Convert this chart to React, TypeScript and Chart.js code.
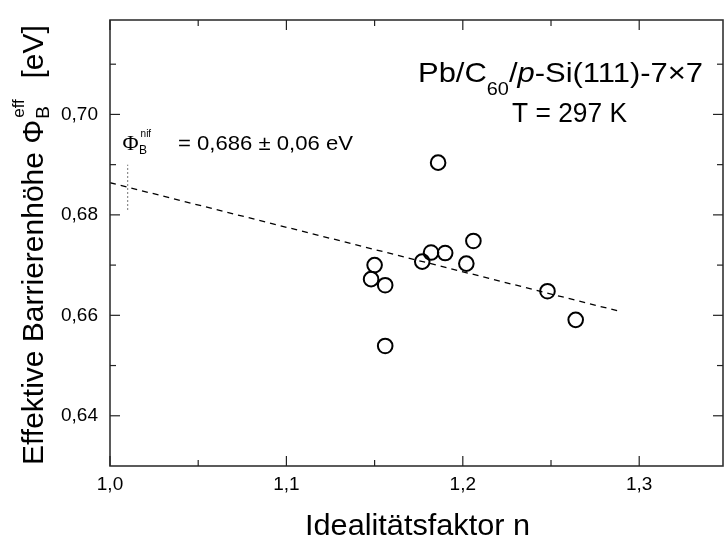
import React, { useEffect, useRef } from "react";
import { Chart, registerables } from "chart.js";

Chart.register(...registerables);

// ---- data ----
const idealityN = [1.186, 1.206, 1.182, 1.190, 1.177, 1.202, 1.150, 1.148, 1.156, 1.248, 1.264, 1.156];
const barrierEff = [0.6904, 0.6748, 0.6725, 0.6724, 0.6707, 0.6703, 0.6700, 0.6672, 0.6660, 0.6648, 0.6591, 0.6539];
const fitN = [1.0, 1.29];
const fitPhi = [0.6864, 0.6607];
const markerN = [1.01, 1.01];
const markerPhi = [0.681, 0.690];
const xMajorTicks = [1.0, 1.1, 1.2, 1.3];
const xMinorTicks = [1.05, 1.15, 1.25];
const yMajorTicks = [0.64, 0.66, 0.68, 0.70];
const yMinorTicks = [0.65, 0.67, 0.69, 0.71];
const xRange = [1.0, 1.3475];
const yRange = [0.63, 0.7188];

const SANS = "'Liberation Sans', Arial, sans-serif";
const SERIF = "'Liberation Serif', 'Times New Roman', serif";

const fmt = (v: number, d: number) => v.toFixed(d).replace(".", ",");

type Run = { t: string; font: string; dy: number };

function drawRuns(ctx: CanvasRenderingContext2D, runs: Run[], x: number, base: number, targetWidth?: number) {
  let total = 0;
  const widths = runs.map((r) => {
    ctx.font = r.font;
    const w = ctx.measureText(r.t).width;
    total += w;
    return w;
  });
  const sx = targetWidth ? targetWidth / total : 1;
  ctx.save();
  ctx.translate(x, base);
  ctx.scale(sx, 1);
  let cx = 0;
  runs.forEach((r, i) => {
    ctx.font = r.font;
    ctx.fillText(r.t, cx, r.dy);
    cx += widths[i];
  });
  ctx.restore();
}

const decorPlugin = {
  id: "decor",
  afterDraw(chart: any) {
    const ctx = chart.ctx as CanvasRenderingContext2D;
    const { left, right, top, bottom } = chart.chartArea;
    const xs = chart.scales.x;
    const ys = chart.scales.y;
    ctx.save();
    // frame
    ctx.strokeStyle = "#333";
    ctx.lineWidth = 1.6;
    ctx.strokeRect(left, top, right - left, bottom - top);
    // ticks (inward, all sides)
    ctx.lineWidth = 1.2;
    ctx.strokeStyle = "#222";
    const tick = (x1: number, y1: number, x2: number, y2: number) => {
      ctx.beginPath();
      ctx.moveTo(x1, y1);
      ctx.lineTo(x2, y2);
      ctx.stroke();
    };
    xMajorTicks.forEach((v) => {
      const p = xs.getPixelForValue(v);
      tick(p, bottom, p, bottom - 10);
      tick(p, top, p, top + 10);
    });
    xMinorTicks.forEach((v) => {
      const p = xs.getPixelForValue(v);
      tick(p, bottom, p, bottom - 6);
      tick(p, top, p, top + 6);
    });
    yMajorTicks.forEach((v) => {
      const p = ys.getPixelForValue(v);
      tick(left, p, left + 10, p);
      tick(right, p, right - 10, p);
    });
    yMinorTicks.forEach((v) => {
      const p = ys.getPixelForValue(v);
      tick(left, p, left + 6, p);
      tick(right, p, right - 6, p);
    });

    ctx.fillStyle = "#000";
    ctx.textBaseline = "alphabetic";
    ctx.textAlign = "left";

    // annotation: Φ_B^nif = 0,686 ± 0,06 eV
    {
      let x = 122.5;
      const base = 149.5;
      ctx.font = `22px ${SERIF}`;
      ctx.fillText("Φ", x, base);
      x += ctx.measureText("Φ").width + 0.5;
      ctx.font = `12px ${SANS}`;
      ctx.fillText("B", x, base + 4);
      ctx.font = `10px ${SANS}`;
      ctx.fillText("nif", x + 1.5, base - 12.5);
      drawRuns(ctx, [{ t: "= 0,686 ± 0,06 eV", font: `21px ${SANS}`, dy: 0 }], 178, base, 175);
    }

    // title: Pb/C60/p-Si(111)-7×7
    drawRuns(
      ctx,
      [
        { t: "Pb/C", font: `28px ${SANS}`, dy: 0 },
        { t: "60", font: `18px ${SANS}`, dy: 13 },
        { t: "/", font: `28px ${SANS}`, dy: 0 },
        { t: "p", font: `italic 28px ${SANS}`, dy: 0 },
        { t: "-Si(111)-7×7", font: `28px ${SANS}`, dy: 0 },
      ],
      418,
      81.5,
      285
    );
    drawRuns(ctx, [{ t: "T = 297 K", font: `27px ${SANS}`, dy: 0 }], 512, 121.7, 115);

    // x-axis title
    drawRuns(ctx, [{ t: "Idealitätsfaktor n", font: `30px ${SANS}`, dy: 0 }], 305, 535, 225);

    // y-axis title (rotated)
    ctx.save();
    ctx.translate(43, 465);
    ctx.rotate(-Math.PI / 2);
    ctx.textAlign = "left";
    let y0 = 0;
    ctx.font = `30px ${SANS}`;
    const main = "Effektive Barrierenhöhe Φ";
    ctx.fillText(main, y0, 0);
    y0 += ctx.measureText(main).width + 1;
    ctx.font = `19px ${SANS}`;
    ctx.fillText("B", y0, 6);
    const bw = ctx.measureText("B").width;
    ctx.font = `17px ${SANS}`;
    ctx.fillText("eff", y0 + 1, -19);
    const ew = ctx.measureText("eff").width;
    y0 += Math.max(bw, ew + 1) + 4;
    ctx.font = `30px ${SANS}`;
    ctx.fillText("  [eV]", y0, 0);
    ctx.restore();

    ctx.restore();
  },
};

const zeroPad = (s: any) => {
  s.paddingLeft = 0;
  s.paddingRight = 0;
  s.paddingTop = 0;
  s.paddingBottom = 0;
};

export default function App() {
  const ref = useRef<HTMLCanvasElement>(null);
  useEffect(() => {
    if (!ref.current) return;
    const chart = new Chart(ref.current, {
      type: "scatter",
      data: {
        datasets: [
          {
            label: "fit",
            data: fitN.map((x, i) => ({ x, y: fitPhi[i] })),
            showLine: true,
            borderColor: "#000",
            borderWidth: 1.3,
            borderDash: [6, 5],
            pointRadius: 0,
            fill: false,
          },
          {
            label: "marker",
            data: markerN.map((x, i) => ({ x, y: markerPhi[i] })),
            showLine: true,
            borderColor: "#666",
            borderWidth: 1.2,
            borderDash: [1.5, 2.5],
            pointRadius: 0,
            fill: false,
          },
          {
            label: "data",
            data: idealityN.map((x, i) => ({ x, y: barrierEff[i] })),
            pointStyle: "circle",
            pointRadius: 7.3,
            pointBorderWidth: 2,
            borderColor: "#000",
            backgroundColor: "rgba(0,0,0,0)",
            pointBackgroundColor: "rgba(0,0,0,0)",
            pointBorderColor: "#000",
          },
        ],
      },
      options: {
        responsive: false,
        animation: false,
        layout: { autoPadding: false, padding: { left: 0, right: 1, top: 20, bottom: 0 } },
        plugins: { legend: { display: false }, tooltip: { enabled: false } },
        scales: {
          x: {
            type: "linear",
            min: xRange[0],
            max: xRange[1],
            grid: { display: false, drawTicks: false, tickLength: 0 },
            border: { display: false },
            afterBuildTicks: (s: any) => {
              s.ticks = xMajorTicks.map((v) => ({ value: v }));
            },
            afterFit: (s: any) => {
              s.height = 75;
              zeroPad(s);
            },
            ticks: {
              color: "#000",
              padding: 7,
              maxRotation: 0,
              font: { family: SANS, size: 19 },
              callback: (v: any) => fmt(Number(v), 1),
            },
          },
          y: {
            type: "linear",
            min: yRange[0],
            max: yRange[1],
            grid: { display: false, drawTicks: false, tickLength: 0 },
            border: { display: false },
            afterBuildTicks: (s: any) => {
              s.ticks = yMajorTicks.map((v) => ({ value: v }));
            },
            afterFit: (s: any) => {
              s.width = 110;
              zeroPad(s);
            },
            ticks: {
              color: "#000",
              padding: 12,
              font: { family: SANS, size: 19 },
              callback: (v: any) => fmt(Number(v), 2),
            },
          },
        },
      },
      plugins: [decorPlugin],
    });
    return () => chart.destroy();
  }, []);
  return (
    <div style={{ position: "absolute", left: 0, top: 0, width: 724, height: 541, background: "#fff" }}>
      <canvas ref={ref} width={724} height={541} style={{ display: "block" }} />
    </div>
  );
}
